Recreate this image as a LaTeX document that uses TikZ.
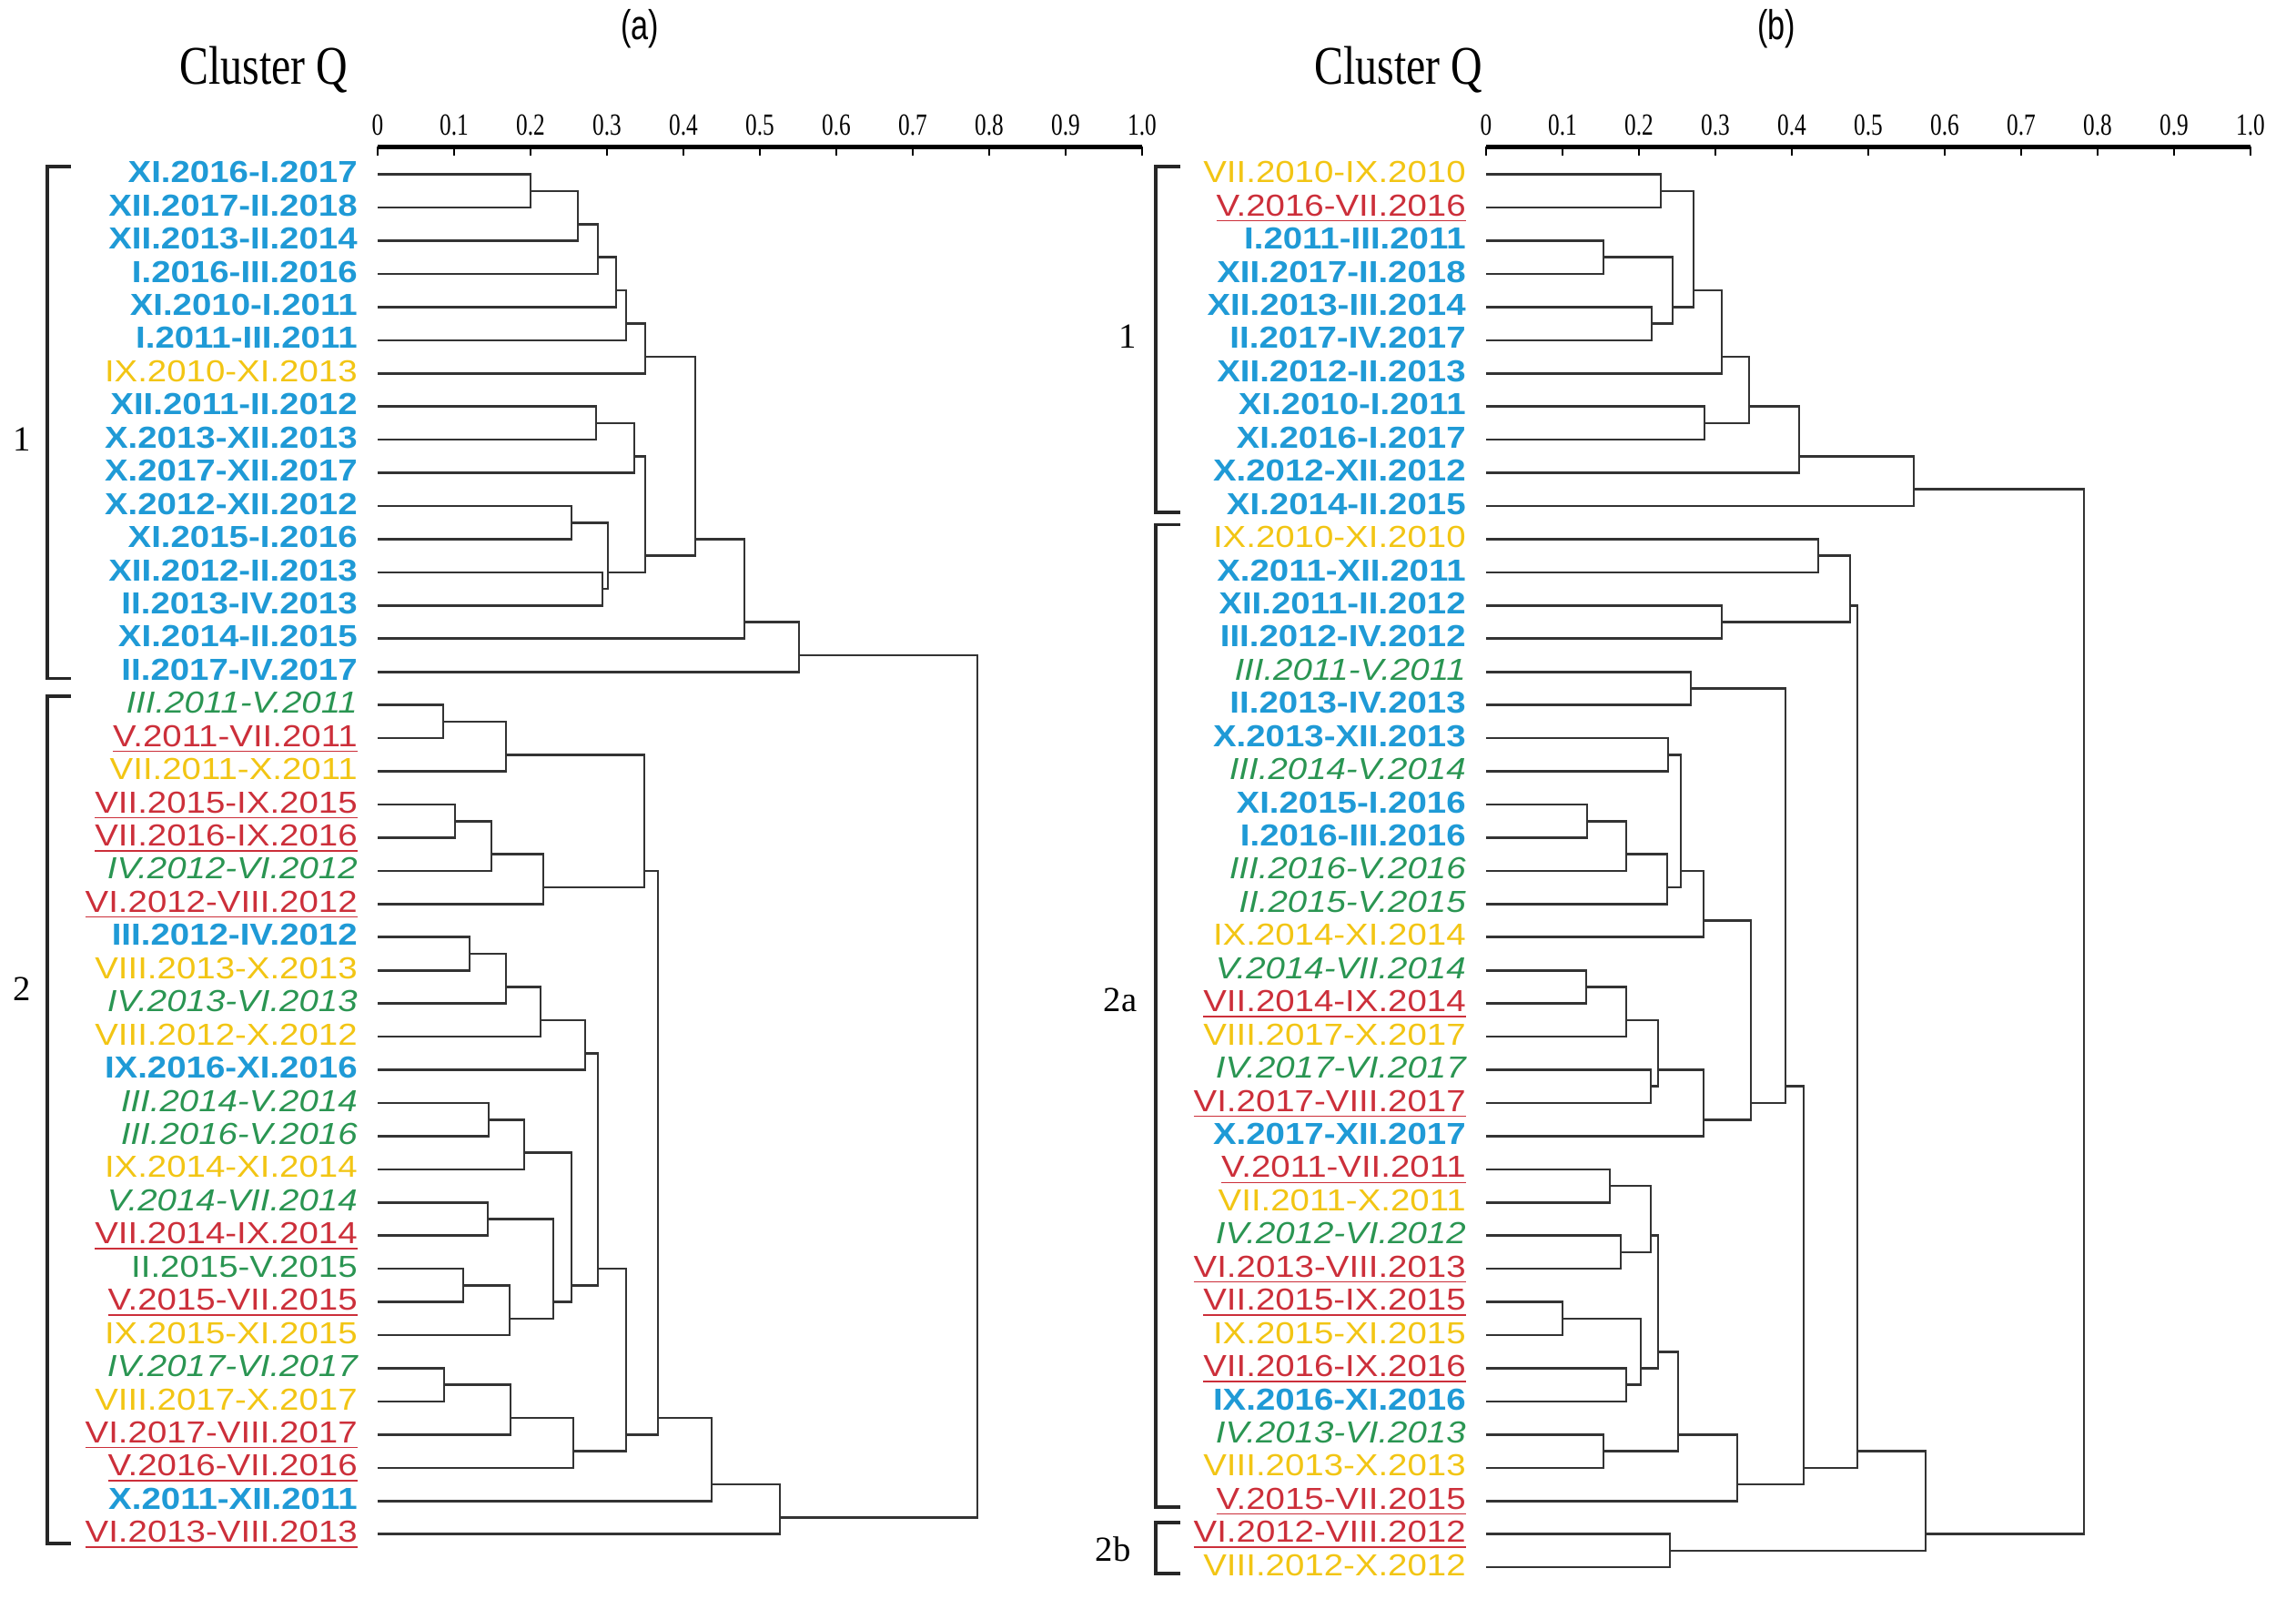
\documentclass[tikz,border=0pt]{standalone}
\usepackage{fontspec}
\usepackage{xcolor}
\usepackage{tikz}

\setmainfont{Liberation Serif}
\newfontfamily\labfont[FakeStretch=1.15]{Liberation Sans}
\newfontfamily\axfont[FakeStretch=0.75]{Liberation Serif}
\newfontfamily\panfont[FakeStretch=0.75]{Liberation Sans}
\newfontfamily\clfont[FakeStretch=0.8]{Liberation Serif}

\definecolor{cblue}{HTML}{1F9AD6}
\definecolor{cyellow}{HTML}{F2C514}
\definecolor{cgreen}{HTML}{2A9552}
\definecolor{cred}{HTML}{CC2F3A}
\definecolor{tree}{HTML}{333333}

\begin{document}
\begin{tikzpicture}[
    x=0.01cm, y=-0.3642cm,
    lab/.style={anchor=base east, inner sep=0pt, font=\labfont\fontsize{9.5}{11}\selectfont},
    bluelab/.style={lab, text=cblue, font=\labfont\fontsize{9.5}{11}\selectfont\bfseries},
    yellab/.style={lab, text=cyellow},
    grnlab/.style={lab, text=cgreen, font=\labfont\fontsize{9.5}{11}\selectfont\itshape},
    grnuplab/.style={lab, text=cgreen},
    redlab/.style={lab, text=cred},
    axlab/.style={inner sep=0pt, font=\axfont\fontsize{9.6}{11}\selectfont},
    grplab/.style={inner sep=0pt, font=\fontsize{11}{13}\selectfont},
    link/.style={draw=tree, line width=0.75pt},
    brk/.style={draw=black!85, line width=1.1pt},
    every path/.style={link}
]
\useasboundingbox[draw=none] (0,-5.2581) rectangle (2523,42.957);

% Titles
\node[inner sep=0pt, font=\panfont\fontsize{13}{15}\selectfont] (pa) at (703,-4.38) {(a)};
\node[inner sep=0pt, font=\panfont\fontsize{13}{15}\selectfont] (pb) at (1952,-4.38) {(b)};
\node[inner sep=0pt, font=\clfont\fontsize{17}{19}\selectfont] (qa) at (290,-3.144) {Cluster Q};
\node[inner sep=0pt, font=\clfont\fontsize{17}{19}\selectfont] (qb) at (1537,-3.144) {Cluster Q};

% Axes
\draw[line width=1.4pt, draw=black] (415,-0.8375) -- (1255,-0.8375);
\draw[line width=1.4pt, draw=black] (1633,-0.8375) -- (2473,-0.8375);
\foreach \v/\t in {0/0,1/0.1,2/0.2,3/0.3,4/0.4,5/0.5,6/0.6,7/0.7,8/0.8,9/0.9,10/1.0} {
    \draw[line width=0.8pt, draw=black] ({415+84*\v},-0.8375) -- ++(0,0.27);
    \node[axlab] (ta\v) at ({415+84*\v},-1.48) {\t};
    \draw[line width=0.8pt, draw=black] ({1633+84*\v},-0.8375) -- ++(0,0.27);
    \node[axlab] (tb\v) at ({1633+84*\v},-1.48) {\t};
}

% Leaf ends
\foreach \i in {0,...,41} \coordinate (a\i) at (415,\i);
\foreach \i in {0,...,42} \coordinate (b\i) at (1633,\i);

% Labels (a)
\node[bluelab] (la0) at (394,0.25) {XI.2016-I.2017};
\node[bluelab] (la1) at (394,1.25) {XII.2017-II.2018};
\node[bluelab] (la2) at (394,2.25) {XII.2013-II.2014};
\node[bluelab] (la3) at (394,3.25) {I.2016-III.2016};
\node[bluelab] (la4) at (394,4.25) {XI.2010-I.2011};
\node[bluelab] (la5) at (394,5.25) {I.2011-III.2011};
\node[yellab] (la6) at (394,6.25) {IX.2010-XI.2013};
\node[bluelab] (la7) at (394,7.25) {XII.2011-II.2012};
\node[bluelab] (la8) at (394,8.25) {X.2013-XII.2013};
\node[bluelab] (la9) at (394,9.25) {X.2017-XII.2017};
\node[bluelab] (la10) at (394,10.25) {X.2012-XII.2012};
\node[bluelab] (la11) at (394,11.25) {XI.2015-I.2016};
\node[bluelab] (la12) at (394,12.25) {XII.2012-II.2013};
\node[bluelab] (la13) at (394,13.25) {II.2013-IV.2013};
\node[bluelab] (la14) at (394,14.25) {XI.2014-II.2015};
\node[bluelab] (la15) at (394,15.25) {II.2017-IV.2017};
\node[grnlab] (la16) at (394,16.25) {III.2011-V.2011};
\node[redlab] (la17) at (394,17.25) {\underline{V.2011-VII.2011}};
\node[yellab] (la18) at (394,18.25) {VII.2011-X.2011};
\node[redlab] (la19) at (394,19.25) {\underline{VII.2015-IX.2015}};
\node[redlab] (la20) at (394,20.25) {\underline{VII.2016-IX.2016}};
\node[grnlab] (la21) at (394,21.25) {IV.2012-VI.2012};
\node[redlab] (la22) at (394,22.25) {\underline{VI.2012-VIII.2012}};
\node[bluelab] (la23) at (394,23.25) {III.2012-IV.2012};
\node[yellab] (la24) at (394,24.25) {VIII.2013-X.2013};
\node[grnlab] (la25) at (394,25.25) {IV.2013-VI.2013};
\node[yellab] (la26) at (394,26.25) {VIII.2012-X.2012};
\node[bluelab] (la27) at (394,27.25) {IX.2016-XI.2016};
\node[grnlab] (la28) at (394,28.25) {III.2014-V.2014};
\node[grnlab] (la29) at (394,29.25) {III.2016-V.2016};
\node[yellab] (la30) at (394,30.25) {IX.2014-XI.2014};
\node[grnlab] (la31) at (394,31.25) {V.2014-VII.2014};
\node[redlab] (la32) at (394,32.25) {\underline{VII.2014-IX.2014}};
\node[grnuplab] (la33) at (394,33.25) {II.2015-V.2015};
\node[redlab] (la34) at (394,34.25) {\underline{V.2015-VII.2015}};
\node[yellab] (la35) at (394,35.25) {IX.2015-XI.2015};
\node[grnlab] (la36) at (394,36.25) {IV.2017-VI.2017};
\node[yellab] (la37) at (394,37.25) {VIII.2017-X.2017};
\node[redlab] (la38) at (394,38.25) {\underline{VI.2017-VIII.2017}};
\node[redlab] (la39) at (394,39.25) {\underline{V.2016-VII.2016}};
\node[bluelab] (la40) at (394,40.25) {X.2011-XII.2011};
\node[redlab] (la41) at (394,41.25) {\underline{VI.2013-VIII.2013}};

% Labels (b)
\node[yellab] (lb0) at (1612,0.25) {VII.2010-IX.2010};
\node[redlab] (lb1) at (1612,1.25) {\underline{V.2016-VII.2016}};
\node[bluelab] (lb2) at (1612,2.25) {I.2011-III.2011};
\node[bluelab] (lb3) at (1612,3.25) {XII.2017-II.2018};
\node[bluelab] (lb4) at (1612,4.25) {XII.2013-III.2014};
\node[bluelab] (lb5) at (1612,5.25) {II.2017-IV.2017};
\node[bluelab] (lb6) at (1612,6.25) {XII.2012-II.2013};
\node[bluelab] (lb7) at (1612,7.25) {XI.2010-I.2011};
\node[bluelab] (lb8) at (1612,8.25) {XI.2016-I.2017};
\node[bluelab] (lb9) at (1612,9.25) {X.2012-XII.2012};
\node[bluelab] (lb10) at (1612,10.25) {XI.2014-II.2015};
\node[yellab] (lb11) at (1612,11.25) {IX.2010-XI.2010};
\node[bluelab] (lb12) at (1612,12.25) {X.2011-XII.2011};
\node[bluelab] (lb13) at (1612,13.25) {XII.2011-II.2012};
\node[bluelab] (lb14) at (1612,14.25) {III.2012-IV.2012};
\node[grnlab] (lb15) at (1612,15.25) {III.2011-V.2011};
\node[bluelab] (lb16) at (1612,16.25) {II.2013-IV.2013};
\node[bluelab] (lb17) at (1612,17.25) {X.2013-XII.2013};
\node[grnlab] (lb18) at (1612,18.25) {III.2014-V.2014};
\node[bluelab] (lb19) at (1612,19.25) {XI.2015-I.2016};
\node[bluelab] (lb20) at (1612,20.25) {I.2016-III.2016};
\node[grnlab] (lb21) at (1612,21.25) {III.2016-V.2016};
\node[grnlab] (lb22) at (1612,22.25) {II.2015-V.2015};
\node[yellab] (lb23) at (1612,23.25) {IX.2014-XI.2014};
\node[grnlab] (lb24) at (1612,24.25) {V.2014-VII.2014};
\node[redlab] (lb25) at (1612,25.25) {\underline{VII.2014-IX.2014}};
\node[yellab] (lb26) at (1612,26.25) {VIII.2017-X.2017};
\node[grnlab] (lb27) at (1612,27.25) {IV.2017-VI.2017};
\node[redlab] (lb28) at (1612,28.25) {\underline{VI.2017-VIII.2017}};
\node[bluelab] (lb29) at (1612,29.25) {X.2017-XII.2017};
\node[redlab] (lb30) at (1612,30.25) {\underline{V.2011-VII.2011}};
\node[yellab] (lb31) at (1612,31.25) {VII.2011-X.2011};
\node[grnlab] (lb32) at (1612,32.25) {IV.2012-VI.2012};
\node[redlab] (lb33) at (1612,33.25) {\underline{VI.2013-VIII.2013}};
\node[redlab] (lb34) at (1612,34.25) {\underline{VII.2015-IX.2015}};
\node[yellab] (lb35) at (1612,35.25) {IX.2015-XI.2015};
\node[redlab] (lb36) at (1612,36.25) {\underline{VII.2016-IX.2016}};
\node[bluelab] (lb37) at (1612,37.25) {IX.2016-XI.2016};
\node[grnlab] (lb38) at (1612,38.25) {IV.2013-VI.2013};
\node[yellab] (lb39) at (1612,39.25) {VIII.2013-X.2013};
\node[redlab] (lb40) at (1612,40.25) {\underline{V.2015-VII.2015}};
\node[redlab] (lb41) at (1612,41.25) {\underline{VI.2012-VIII.2012}};
\node[yellab] (lb42) at (1612,42.25) {VIII.2012-X.2012};

% Joins (a)
\coordinate (m1) at (583,0.5);
\coordinate (m2) at (635,1.5);
\coordinate (m3) at (657,2.5);
\coordinate (m4) at (677,3.5);
\coordinate (m5) at (688,4.5);
\coordinate (m6) at (709,5.5);
\coordinate (m7) at (655,7.5);
\coordinate (m8) at (697,8.5);
\coordinate (m9) at (628,10.5);
\coordinate (m10) at (662,12.5);
\coordinate (m11) at (668,12);
\coordinate (m12) at (709,11.5);
\coordinate (m13) at (764,11);
\coordinate (m14) at (818,13.5);
\coordinate (m15) at (878,14.5);
\coordinate (m16) at (487,16.5);
\coordinate (m17) at (556,17.5);
\coordinate (m18) at (500,19.5);
\coordinate (m19) at (540,20.5);
\coordinate (m20) at (597,21.5);
\coordinate (m21) at (708,21);
\coordinate (m22) at (516,23.5);
\coordinate (m23) at (556,24.5);
\coordinate (m24) at (594,25.5);
\coordinate (m25) at (643,26.5);
\coordinate (m26) at (537,28.5);
\coordinate (m27) at (576,29.5);
\coordinate (m28) at (536,31.5);
\coordinate (m29) at (509,33.5);
\coordinate (m30) at (560,34.5);
\coordinate (m31) at (608,34);
\coordinate (m32) at (628,33.5);
\coordinate (m33) at (657,33);
\coordinate (m34) at (488,36.5);
\coordinate (m35) at (561,37.5);
\coordinate (m36) at (630,38.5);
\coordinate (m37) at (688,38);
\coordinate (m38) at (723,37.5);
\coordinate (m39) at (782,39.5);
\coordinate (m40) at (857,40.5);
\coordinate (ra) at (1074,27.5);

\draw (a0) -| (m1) |- (a1);
\draw (m1) -| (m2) |- (a2);
\draw (m2) -| (m3) |- (a3);
\draw (m3) -| (m4) |- (a4);
\draw (m4) -| (m5) |- (a5);
\draw (m5) -| (m6) |- (a6);
\draw (a7) -| (m7) |- (a8);
\draw (m7) -| (m8) |- (a9);
\draw (a10) -| (m9) |- (a11);
\draw (a12) -| (m10) |- (a13);
\draw (m9) -| (m11) |- (m10);
\draw (m8) -| (m12) |- (m11);
\draw (m6) -| (m13) |- (m12);
\draw (m13) -| (m14) |- (a14);
\draw (m14) -| (m15) |- (a15);
\draw (a16) -| (m16) |- (a17);
\draw (m16) -| (m17) |- (a18);
\draw (a19) -| (m18) |- (a20);
\draw (m18) -| (m19) |- (a21);
\draw (m19) -| (m20) |- (a22);
\draw (m17) -| (m21) |- (m20);
\draw (a23) -| (m22) |- (a24);
\draw (m22) -| (m23) |- (a25);
\draw (m23) -| (m24) |- (a26);
\draw (m24) -| (m25) |- (a27);
\draw (a28) -| (m26) |- (a29);
\draw (m26) -| (m27) |- (a30);
\draw (a31) -| (m28) |- (a32);
\draw (a33) -| (m29) |- (a34);
\draw (m29) -| (m30) |- (a35);
\draw (m28) -| (m31) |- (m30);
\draw (m27) -| (m32) |- (m31);
\draw (m25) -| (m33) |- (m32);
\draw (a36) -| (m34) |- (a37);
\draw (m34) -| (m35) |- (a38);
\draw (m35) -| (m36) |- (a39);
\draw (m33) -| (m37) |- (m36);
\draw (m21) -| (m38) |- (m37);
\draw (m38) -| (m39) |- (a40);
\draw (m39) -| (m40) |- (a41);
\draw (m15) -| (ra) |- (m40);

% Joins (b)
\coordinate (n1) at (1825,0.5);
\coordinate (n2) at (1762,2.5);
\coordinate (n3) at (1815,4.5);
\coordinate (n4) at (1838,4);
\coordinate (n5) at (1861,3.5);
\coordinate (n6) at (1892,5.5);
\coordinate (n7) at (1873,7.5);
\coordinate (n8) at (1922,7);
\coordinate (n9) at (1977,8.5);
\coordinate (n10) at (2103,9.5);
\coordinate (n11) at (1998,11.5);
\coordinate (n12) at (1892,13.5);
\coordinate (n13) at (2033,13);
\coordinate (n14) at (1858,15.5);
\coordinate (n15) at (1833,17.5);
\coordinate (n16) at (1744,19.5);
\coordinate (n17) at (1787,20.5);
\coordinate (n18) at (1832,21.5);
\coordinate (n19) at (1847,21);
\coordinate (n20) at (1872,22.5);
\coordinate (n21) at (1743,24.5);
\coordinate (n22) at (1787,25.5);
\coordinate (n23) at (1814,27.5);
\coordinate (n24) at (1822,27);
\coordinate (n25) at (1872,28.5);
\coordinate (n26) at (1924,28);
\coordinate (n27) at (1962,27.5);
\coordinate (n28) at (1769,30.5);
\coordinate (n29) at (1781,32.5);
\coordinate (n30) at (1814,32);
\coordinate (n31) at (1717,34.5);
\coordinate (n32) at (1787,36.5);
\coordinate (n33) at (1803,36);
\coordinate (n34) at (1822,35.5);
\coordinate (n35) at (1762,38.5);
\coordinate (n36) at (1844,38);
\coordinate (n37) at (1909,39.5);
\coordinate (n38) at (1982,39);
\coordinate (n39) at (2041,38.5);
\coordinate (n40) at (1835,41.5);
\coordinate (n41) at (2116,41);
\coordinate (rb) at (2290,25);

\draw (b0) -| (n1) |- (b1);
\draw (b2) -| (n2) |- (b3);
\draw (b4) -| (n3) |- (b5);
\draw (n2) -| (n4) |- (n3);
\draw (n1) -| (n5) |- (n4);
\draw (n5) -| (n6) |- (b6);
\draw (b7) -| (n7) |- (b8);
\draw (n6) -| (n8) |- (n7);
\draw (n8) -| (n9) |- (b9);
\draw (n9) -| (n10) |- (b10);
\draw (b11) -| (n11) |- (b12);
\draw (b13) -| (n12) |- (b14);
\draw (n11) -| (n13) |- (n12);
\draw (b15) -| (n14) |- (b16);
\draw (b17) -| (n15) |- (b18);
\draw (b19) -| (n16) |- (b20);
\draw (n16) -| (n17) |- (b21);
\draw (n17) -| (n18) |- (b22);
\draw (n15) -| (n19) |- (n18);
\draw (n19) -| (n20) |- (b23);
\draw (b24) -| (n21) |- (b25);
\draw (n21) -| (n22) |- (b26);
\draw (b27) -| (n23) |- (b28);
\draw (n22) -| (n24) |- (n23);
\draw (n24) -| (n25) |- (b29);
\draw (n20) -| (n26) |- (n25);
\draw (n14) -| (n27) |- (n26);
\draw (b30) -| (n28) |- (b31);
\draw (b32) -| (n29) |- (b33);
\draw (n28) -| (n30) |- (n29);
\draw (b34) -| (n31) |- (b35);
\draw (b36) -| (n32) |- (b37);
\draw (n31) -| (n33) |- (n32);
\draw (n30) -| (n34) |- (n33);
\draw (b38) -| (n35) |- (b39);
\draw (n34) -| (n36) |- (n35);
\draw (n36) -| (n37) |- (b40);
\draw (n27) -| (n38) |- (n37);
\draw (n13) -| (n39) |- (n38);
\draw (b41) -| (n40) |- (b42);
\draw (n39) -| (n41) |- (n40);
\draw (n10) -| (rb) |- (n41);

% Groups
\draw[brk] (78,-0.233) -- (52,-0.233) -- (52,15.2) -- (78,15.2);
\draw[brk] (78,15.74) -- (52,15.74) -- (52,41.28) -- (78,41.28);
\draw[brk] (1297,-0.233) -- (1270,-0.233) -- (1270,10.2) -- (1297,10.2);
\draw[brk] (1297,10.56) -- (1270,10.56) -- (1270,40.18) -- (1297,40.18);
\draw[brk] (1297,40.65) -- (1270,40.65) -- (1270,42.19) -- (1297,42.19);
\node[grplab] (g1a) at (24,8.0) {1};
\node[grplab] (g2a) at (24,24.56) {2};
\node[grplab] (g1b) at (1239,4.9) {1};
\node[grplab] (g2ab) at (1231,24.9) {2a};
\node[grplab] (g2bb) at (1223,41.45) {2b};

\end{tikzpicture}
\end{document}
